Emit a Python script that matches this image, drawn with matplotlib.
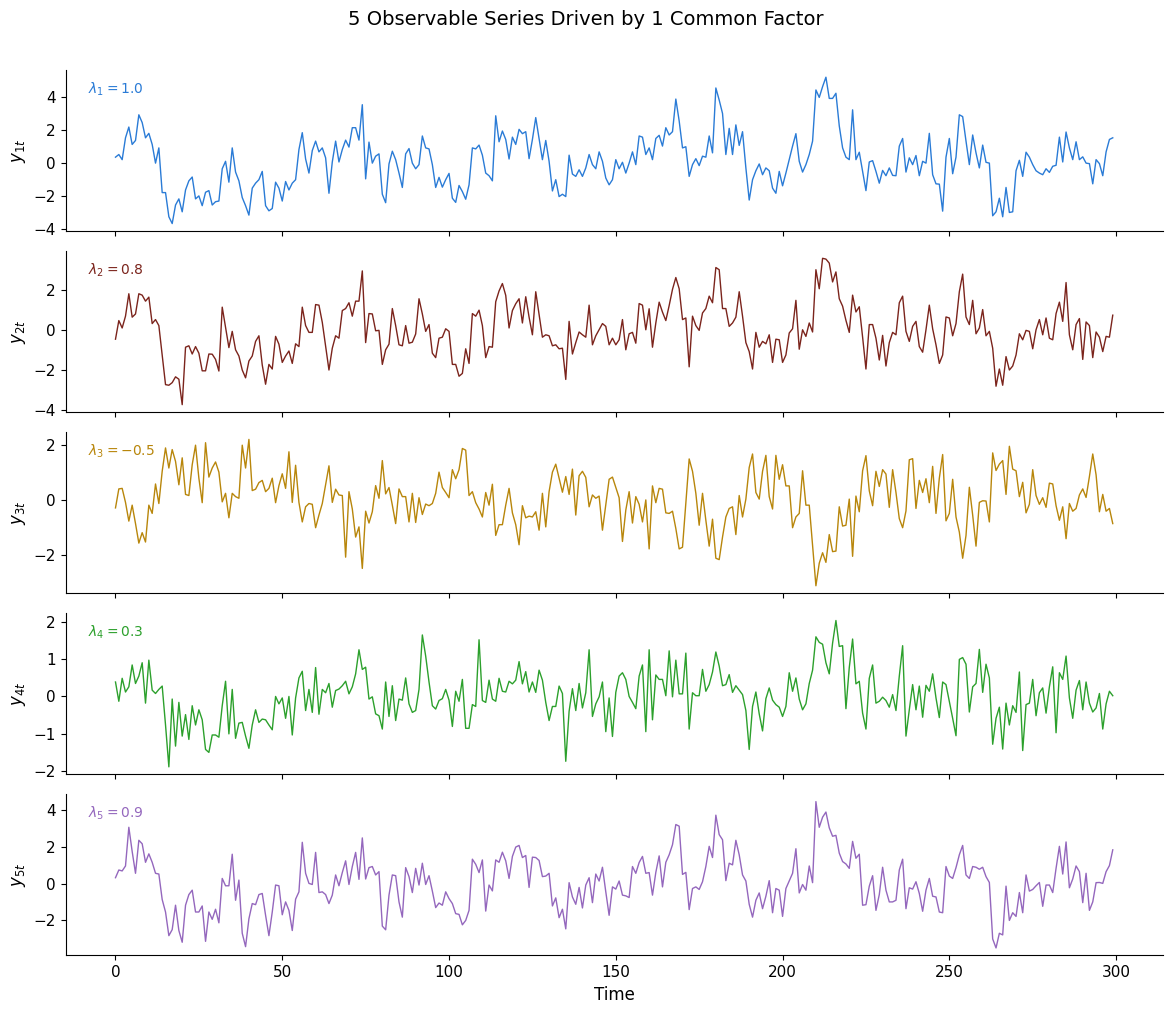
import numpy as np
import matplotlib
matplotlib.use("Agg")
import matplotlib.pyplot as plt

# values, t = 0..299
y1 = [0.36, 0.52, 0.21, 1.53, 2.18, 1.13, 1.37, 2.92, 2.45, 1.53, 1.8, 1.13, 0.0, 0.92, -1.78, -1.78, -3.24, -3.65, -2.53, -2.16,
      -2.94, -1.62, -1.07, -0.84, -2.16, -1.98, -2.57, -1.76, -1.66, -2.53, -2.33, -2.29, -0.34, 0.11, -1.15, 0.92, -0.54, -1.07, -2.08, -2.57,
      -3.14, -1.51, -1.21, -1.0, -0.5, -2.57, -2.88, -2.74, -1.15, -1.51, -2.29, -1.11, -1.62, -1.21, -1.0, 0.82, 1.84, 0.25, -0.6, 0.76,
      1.33, 0.68, 0.92, 0.32, -1.82, 0.07, 1.33, 0.07, 0.82, 1.39, 0.97, 2.14, 2.14, 1.39, 3.53, -0.95, 1.27, 0.0, 0.42, 0.56,
      -1.88, -2.39, -0.05, 0.72, 0.21, -0.6, -1.47, 0.56, 0.88, 0.0, -0.34, -0.09, 1.64, 0.92, 0.86, -0.09, -1.47, -0.86, -1.45, -1.0,
      -0.62, -2.12, -2.37, -1.35, -1.72, -2.18, -1.31, 0.92, 0.86, 1.09, 0.48, -0.6, -0.76, -1.07, 2.86, 1.29, 1.94, 1.43, 0.25, 1.57,
      1.13, 2.04, 1.78, 1.9, 0.27, 1.43, 2.75, 1.49, 0.21, 1.37, 0.11, -1.68, -1.0, -2.02, -1.88, -2.02, 0.48, -0.66, -0.8, -0.4,
      -0.8, -0.29, 0.52, -0.09, -0.34, 0.68, 0.11, -0.9, -1.31, -1.0, 0.21, -0.34, 0.05, -0.6, 0.0, 0.68, -0.09, 1.64, 1.57, 0.52,
      0.92, 0.21, 1.49, 1.68, 1.03, 2.14, 1.7, 1.9, 3.87, 2.55, 0.92, 0.99, -0.8, -0.09, 0.27, -0.15, 0.42, 0.36, 1.64, 0.62,
      4.54, 3.81, 3.0, 0.52, 2.1, 0.52, 2.31, 1.07, 1.9, -0.29, -2.23, -1.0, -0.46, -0.05, -0.7, -0.29, -0.46, -1.51, -1.82, -0.5,
      -1.37, -0.6, 0.21, 1.03, 1.78, 0.11, -0.54, -0.09, 0.52, 1.33, 4.42, 3.97, 4.62, 5.19, 3.91, 3.91, 4.22, 2.25, 0.92, 0.36,
      0.21, 3.22, 0.21, 0.66, -0.5, -1.66, 0.07, 0.15, -0.5, -1.21, -0.44, -0.76, -0.29, -0.74, -0.76, 1.03, 1.49, -0.54, 0.32, -0.09,
      0.46, -0.76, 0.11, 0.0, 1.8, -0.7, -1.25, -1.27, -2.9, 0.36, 1.49, -0.64, 0.36, 2.92, 2.81, 1.33, -0.09, 1.7, 0.62, -0.29,
      1.09, 0.05, 0.0, -3.18, -2.94, -2.12, -3.24, -1.47, -2.98, -2.94, -0.46, 0.17, -0.8, 0.66, 0.36, -0.09, -0.46, -0.6, -0.7, -0.34,
      -0.56, -0.19, -0.13, 1.57, 0.07, 1.88, 0.92, 0.21, 1.29, 0.21, 0.38, 0.0, -0.03, -1.25, 0.21, -0.03, -0.76, 0.68, 1.43, 1.53]

y2 = [-0.44, 0.49, 0.12, 0.71, 1.83, 0.66, 0.82, 1.83, 1.76, 1.46, 1.66, 0.34, 0.54, 0.24, -1.23, -2.71, -2.74, -2.61, -2.32, -2.44,
      -3.71, -0.84, -0.77, -1.18, -0.81, -1.14, -2.02, -2.02, -1.18, -1.19, -1.45, -2.03, 1.16, 0.15, -0.86, -0.05, -0.97, -1.28, -1.98, -2.37,
      -1.53, -1.28, -0.55, -0.27, -1.73, -2.69, -1.7, -1.93, -0.3, -0.69, -1.6, -1.28, -1.03, -1.65, -0.67, -0.81, 1.16, 0.24, -0.1, -0.1,
      1.29, 1.26, 0.4, -0.81, -1.98, -0.89, -0.27, -0.39, 0.99, 1.09, 1.38, 0.71, 1.46, 1.46, 2.97, -0.61, 0.84, 0.82, -0.02, 0.0,
      -1.7, -0.97, -0.69, 1.09, 0.24, -0.72, -0.77, 0.24, -0.64, -0.59, -0.18, 1.58, 0.82, -0.05, 0.29, -1.14, -1.36, -0.39, -0.34, 0.08,
      -0.05, -1.7, -1.7, -2.29, -2.15, -0.92, -1.65, 0.84, 0.71, 1.01, 0.24, -1.36, -0.81, -0.84, 1.43, 1.97, 2.34, 1.75, 0.12, 0.99,
      1.33, 1.58, 0.37, 1.68, 0.66, -0.22, 1.93, 0.79, -0.34, -0.22, -0.27, -0.77, -0.72, -0.92, -0.89, -2.45, 0.45, -1.18, -0.61, -0.08,
      -0.22, -0.34, 1.26, -0.72, -0.27, 0.03, 0.34, 0.2, -0.72, -0.39, -0.72, -0.47, 0.54, -0.97, -0.17, -0.1, -0.64, 1.34, 1.26, 0.03,
      1.08, -0.84, 0.37, 1.41, 0.91, 0.49, 1.24, 2.05, 2.64, 2.08, 0.54, 0.62, -1.82, 0.71, 0.24, 0.0, 0.87, 1.09, 1.71, 1.38,
      3.14, 3.03, 1.09, 1.09, 0.2, 0.37, 0.66, 1.93, 0.71, -0.61, -1.06, -1.93, -0.1, -0.84, -0.55, -0.67, -0.22, -1.6, -0.44, -0.47,
      -1.6, -1.23, -0.13, 0.08, 1.5, -0.94, 0.03, -0.3, 0.37, -0.08, 3.03, 2.08, 3.6, 3.56, 3.36, 2.42, 2.92, 1.58, 1.21, 0.5,
      -0.1, 1.76, 0.92, 1.18, -0.34, -1.93, 0.29, 0.29, -0.39, -1.48, -0.25, -1.78, -0.61, -0.1, -0.22, 1.38, 1.71, -0.05, -0.55, 0.2,
      0.45, -0.81, -1.09, 0.03, 1.26, 0.08, -0.72, -1.65, -1.23, 0.67, 0.62, -0.27, 0.34, 1.93, 2.81, 0.67, 0.29, 1.5, -0.17, 0.12,
      1.04, -0.27, -0.05, -0.89, -2.79, -1.93, -2.74, -1.31, -1.98, -1.78, -1.23, -0.17, -0.47, 0.0, -0.05, -0.92, 0.03, 0.54, -0.22, 0.62,
      -0.39, -0.47, 0.84, 1.41, 0.45, 2.39, -0.22, -0.97, 0.29, 0.59, -1.45, 0.42, 0.24, -1.36, -0.08, -0.34, -1.06, -0.3, -0.34, 0.76]

y3 = [-0.28, 0.41, 0.43, -0.08, -0.76, -0.18, -0.85, -1.56, -1.18, -1.52, -0.18, -0.48, 0.59, -0.12, 1.05, 1.9, 1.17, 1.84, 1.41, 0.56,
      1.54, 0.21, 0.17, 1.29, 2.0, 0.8, -0.09, 2.09, 0.84, 1.17, 1.39, 1.02, -0.06, 0.25, -0.64, 0.25, 0.13, 0.07, 2.0, 1.17,
      2.21, 0.35, 0.4, 0.64, 0.72, 0.31, 0.43, 0.8, -0.09, 0.53, 0.96, 0.43, 1.76, -0.08, 1.27, -0.08, -0.79, -0.24, -0.12, -0.15,
      -1.0, -0.54, -0.12, 0.56, 1.25, -0.08, 0.4, 0.19, 0.17, -2.07, 0.31, -0.32, -1.34, -0.97, -2.48, -0.4, -0.83, -0.42, 0.53, 0.07,
      1.44, 0.23, 0.46, -0.18, -0.85, 0.41, 0.13, 0.13, -0.79, 0.25, -0.81, 0.09, -0.52, -0.14, -0.2, -0.12, 0.25, 1.02, 0.46, 0.28,
      0.09, 1.11, 0.78, 1.11, 1.88, 1.82, 0.17, 0.31, -0.09, -0.32, -0.61, 0.28, -0.18, 0.58, -1.28, -0.89, -0.89, -0.18, 0.43, -0.46,
      -0.89, -1.62, -0.2, -0.64, -0.58, -0.61, -0.42, -1.09, 0.25, -0.97, 0.31, 1.02, 1.31, 0.8, 0.29, 0.86, 0.21, 1.13, -0.54, 0.89,
      1.05, 0.83, -0.24, 0.19, 0.07, 0.15, -1.09, -0.15, 0.76, 0.84, 0.46, 0.09, -1.5, -0.36, 0.31, -0.83, 0.13, -0.15, -0.79, 0.01,
      -1.77, 0.52, -0.09, 0.43, 0.4, -0.46, -0.48, -0.4, -1.03, -1.77, -1.71, -0.09, 1.5, 1.05, 0.25, -0.91, 0.25, -0.73, -1.67, -0.69,
      -2.11, -2.16, -1.34, -0.61, -0.3, -0.24, -1.25, 0.17, -0.61, 0.04, 1.19, 1.68, 0.28, 0.04, 1.05, 1.63, 0.13, -0.32, 1.63, 0.76,
      1.29, 0.52, 0.52, -1.0, -0.61, -0.48, 1.07, -0.18, -0.18, -1.65, -3.11, -2.29, -1.91, -2.26, -1.25, -1.87, -1.85, -0.24, -0.94, -0.91,
      0.04, -2.04, 0.15, -0.42, 1.07, 1.62, 0.34, -0.2, 1.05, 0.5, 1.11, 0.95, -0.26, 1.11, 0.28, -0.67, -1.0, -0.39, 1.47, 1.51,
      -0.3, 0.72, 0.28, 0.78, -0.09, 1.23, -0.48, 0.8, 1.66, -0.75, -0.48, 0.76, -0.61, -1.16, -2.11, -1.28, 0.47, -0.54, -1.67, -0.08,
      -0.02, -0.03, -0.79, 1.72, 1.08, 1.31, 1.44, 0.21, 1.96, 1.13, 1.07, 0.13, 0.65, -0.46, -0.15, 1.11, 0.17, -0.15, 0.09, -0.26,
      0.62, 0.59, -0.2, -0.73, -0.24, -1.4, -0.12, -0.4, -0.3, 0.19, 0.41, 0.1, 0.86, 1.68, 0.92, -0.42, 0.21, -0.4, -0.3, -0.85]

y4 = [0.39, -0.13, 0.49, 0.12, 0.26, 0.85, 0.35, 0.55, 0.91, -0.18, 0.98, 0.17, 0.08, 0.19, 0.28, -0.77, -1.9, -0.07, -1.34, -0.16,
      -1.07, -0.49, -1.16, -0.25, -0.77, -0.36, -0.63, -1.43, -1.51, -1.04, -1.04, -1.1, -0.25, 0.41, -1.01, 0.19, -1.13, -0.72, -0.7, -1.07,
      -1.4, -0.77, -0.36, -0.7, -0.61, -0.63, -0.77, -0.9, 0.0, -0.2, -0.04, -0.59, 0.0, -1.04, -0.04, 0.5, 0.68, -0.38, 0.19, -0.43,
      0.78, -0.48, 0.19, 0.1, 0.35, -0.29, 0.16, 0.2, 0.29, 0.41, 0.07, 0.26, 0.61, 1.26, 0.73, 0.79, -0.07, -0.01, -0.47, -0.52,
      -0.88, 0.39, -0.54, 0.29, -0.65, -0.07, -0.1, 0.5, -0.2, -0.43, -0.38, 0.19, 1.66, 1.09, 0.39, -0.25, -0.34, -0.11, -0.06, 0.19,
      -0.1, -0.81, 0.14, -0.13, 0.46, -0.86, -0.86, -0.22, -0.27, 1.53, -0.11, -0.16, 0.44, -0.07, -0.13, 0.49, 0.14, 0.12, 0.41, 0.34,
      0.44, 0.94, 0.34, 0.67, 0.12, 0.39, 0.11, 0.71, 0.44, -0.16, -0.65, -0.27, -0.27, 0.28, 0.08, -1.75, -0.4, 0.21, -0.38, 0.35,
      -0.31, 0.1, 1.26, -0.54, -0.2, -0.01, 0.39, -0.95, -0.04, -1.08, 0.11, 0.55, 0.64, 0.46, 0.0, -0.16, -0.33, 0.55, 0.85, -0.95,
      1.26, -0.63, 0.58, 0.46, 0.46, 0.02, 1.23, -0.01, 0.98, 0.07, 0.07, 1.17, -0.88, 0.1, 0.02, 0.02, 0.73, 0.14, 0.32, 0.66,
      1.2, 0.82, 0.29, 0.32, 0.59, 0.11, 0.29, 0.17, 0.05, -0.38, -1.43, -0.27, 0.12, -0.47, -0.93, -0.06, 0.23, -0.1, -0.22, -0.29,
      -0.54, -0.27, 0.64, 0.14, 0.5, -0.07, -0.36, -0.2, 0.35, 0.71, 1.61, 1.46, 1.41, 0.91, 0.61, 1.44, 2.05, 1.35, 1.37, -0.33,
      0.78, 1.55, 0.34, 0.41, -0.45, -0.88, 0.49, 0.85, -0.18, -0.13, -0.02, -0.11, -0.29, 0.05, -0.38, 0.55, 1.37, -1.07, -0.36, 0.32,
      -0.36, 0.28, -0.56, 0.3, 0.14, 0.61, -0.04, -0.57, 0.39, 0.32, -0.13, -0.59, -1.06, 1.0, 1.05, 0.87, -0.42, 0.26, 0.35, 1.27,
      0.11, 0.87, 0.5, -1.29, -0.59, -0.29, -1.42, -0.18, -0.77, -0.25, -0.43, 0.66, -1.46, -0.22, -0.18, 0.46, -0.52, 0.1, 0.23, -0.45,
      0.26, 0.8, -0.98, 0.64, 0.46, 1.09, -0.04, -0.59, 0.17, 0.43, -0.36, 0.39, -0.18, -0.42, -0.31, 0.08, -0.88, -0.2, 0.14, 0.02]

y5 = [0.33, 0.75, 0.7, 0.97, 3.08, 1.76, 0.57, 2.37, 2.18, 1.17, 1.63, 1.17, 0.57, 0.53, -0.86, -1.54, -2.83, -2.5, -1.17, -2.55,
      -3.19, -1.17, -0.59, -0.35, -1.54, -1.54, -1.21, -3.14, -1.54, -1.94, -1.39, -2.13, 0.29, -0.11, -0.11, 1.61, -0.9, 0.2, -2.7, -3.43,
      -1.91, -1.08, -1.14, -0.59, -0.53, -1.72, -2.83, -1.54, -0.07, -0.11, -1.69, -0.99, -1.45, -2.55, -0.84, -0.44, 2.26, 0.57, 0.02, -0.04,
      1.71, -0.48, -0.44, -0.59, -1.08, -0.62, 0.48, -0.11, 0.61, 1.25, -0.04, 0.94, 1.71, 0.24, 2.5, 0.26, 0.88, 0.94, 0.48, 0.66,
      -2.31, -2.51, -0.62, 0.48, 0.44, -0.99, -1.82, 0.88, 0.39, -0.48, 0.84, -0.07, 1.12, -0.04, 0.44, -0.4, -1.3, -1.05, -1.17, -0.44,
      -0.81, -1.08, -1.63, -1.67, -2.24, -2.0, -1.45, 1.34, 1.06, 0.61, 1.3, -1.49, -0.07, -0.39, 1.3, 1.17, 1.72, 1.25, 0.29, 1.49,
      2.0, 2.09, 1.43, 1.54, -0.2, 1.45, 1.43, 1.27, 0.39, 0.42, 0.57, -1.21, -0.77, -1.85, -1.39, -2.46, 0.06, -0.72, -1.12, -0.2,
      -1.32, -0.07, 0.33, -1.03, 0.53, 0.15, 0.9, -0.44, -1.72, -0.17, -0.29, 0.15, -0.62, -0.66, -0.75, 0.94, 0.57, 1.16, 1.49, 0.57,
      0.61, -0.62, 0.62, 1.52, -0.17, 1.17, 1.58, 2.13, 3.23, 3.14, 0.51, 0.62, -1.41, -0.26, -0.17, -0.31, 0.11, 0.94, 2.04, 1.43,
      3.74, 2.68, 2.4, 0.17, 1.12, 1.03, 2.37, 1.58, 0.48, 0.15, -1.12, -1.82, -0.9, -0.5, -1.36, -0.68, 0.17, -1.58, -0.26, -0.35,
      -1.78, -0.26, 0.15, 0.57, 1.91, -0.5, -0.04, -0.35, 0.97, 0.06, 4.48, 3.08, 3.63, 3.91, 3.05, 2.59, 2.64, 1.67, 1.21, 1.08,
      0.84, 2.31, 1.39, 1.61, -1.17, -1.14, -0.13, 0.44, -1.45, -0.59, 0.9, -0.35, -0.99, -0.99, -0.9, 0.75, 1.34, -1.36, -0.22, -0.29,
      0.11, -0.53, -1.5, -0.35, 0.29, -0.68, -0.72, -1.54, -1.58, 0.94, 0.42, 0.29, 0.88, 1.58, 2.09, 0.48, 0.29, 0.94, 0.9, 0.79,
      0.9, 0.39, 0.07, -3.01, -3.5, -2.7, -2.79, -0.13, -2.0, -1.58, -1.78, -0.48, -1.58, 0.48, -0.4, -0.31, -0.11, 0.07, -1.23, -0.07,
      -0.07, -0.48, 0.84, 2.04, 0.53, 2.28, -0.22, 0.26, 0.97, 0.66, -1.03, 0.57, -1.45, -0.99, 0.06, 0.07, 0.02, 0.66, 0.99, 1.85]

loadings = [1.0, 0.8, -0.5, 0.3, 0.9]
series = [y1, y2, y3, y4, y5]
colors = ["#2a7bd6", "#7b241c", "#b8860b", "#2ca02c", "#9467bd"]

t = np.arange(len(y1))

fig, axes = plt.subplots(5, 1, figsize=(11.72, 10.13), dpi=100, sharex=True)

for i, ax in enumerate(axes):
    ax.plot(t, series[i], color=colors[i], linewidth=1.0)
    ax.set_ylabel(f"$y_{{{i+1}t}}$", fontsize=12)
    ax.text(0.02, 0.88, f"$\\lambda_{i+1} = {loadings[i]}$", transform=ax.transAxes,
            color=colors[i], fontsize=10, va="center")
    ax.spines["top"].set_visible(False)
    ax.spines["right"].set_visible(False)
    ax.tick_params(labelsize=11)

axes[-1].set_xlabel("Time", fontsize=12)
fig.suptitle("5 Observable Series Driven by 1 Common Factor", fontsize=14, y=0.99)

plt.subplots_adjust(left=0.056, right=0.992, top=0.931, bottom=0.057, hspace=0.125)
plt.savefig("out.png")
